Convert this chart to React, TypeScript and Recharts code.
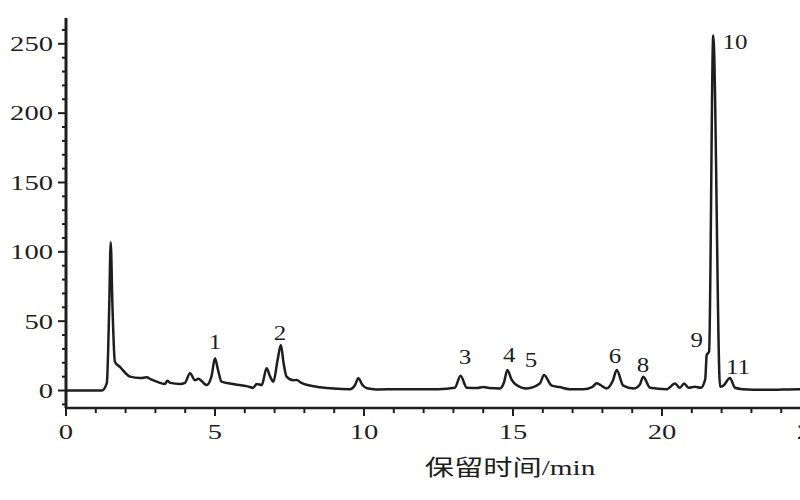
import { ComposedChart, Line, Scatter, XAxis, YAxis } from "recharts";

// retention time (min) and detector signal
const times = [
  0, 1.2, 1.37, 1.45, 1.5, 1.56, 1.64, 1.81, 2.15, 2.48,
  2.71, 2.85, 3.04, 3.32, 3.4, 3.5, 3.83, 3.99, 4.16, 4.33,
  4.44, 4.72, 4.88, 5.0, 5.1, 5.22, 5.6, 6.1, 6.28, 6.4,
  6.57, 6.73, 6.85, 6.96, 7.1, 7.21, 7.3, 7.4, 7.63, 7.74,
  7.9, 8.41, 8.96, 9.53, 9.7, 9.81, 9.95, 10.1, 10.4, 11.2,
  12.5, 13.05, 13.24, 13.45, 13.8, 14.0, 14.2, 14.56, 14.7, 14.81,
  14.95, 15.07, 15.46, 15.9, 16.04, 16.3, 16.56, 16.9, 17.36, 17.65,
  17.81, 18.0, 18.14, 18.35, 18.48, 18.7, 19.04, 19.25, 19.37, 19.6,
  20.16, 20.44, 20.6, 20.74, 20.9, 21.1, 21.3, 21.45, 21.5, 21.58,
  21.72, 21.95, 22.06, 22.28, 22.45, 22.7, 23.5, 24.6, 25,
];
const signal = [
  0, 0, 5.4, 60, 107, 60, 20.8, 17, 10, 9,
  9.5, 8, 6.4, 4.7, 7, 5.5, 4.7, 5.5, 12.4, 7.4,
  8.5, 4, 10, 23.2, 15, 6.4, 4.7, 3, 2, 4.7,
  4, 16, 10, 6.4, 22, 32.8, 20, 10, 7.4, 7.6,
  5.5, 2.7, 1.5, 1, 4, 8.8, 4, 1.6, 0.8, 1,
  1, 2, 10.7, 2, 1.8, 2.5, 1.8, 1.5, 6, 14.8,
  8, 4.7, 1.5, 5, 11.2, 3.5, 2.5, 1, 1, 2.5,
  5.2, 3, 1.5, 7, 14.8, 3.5, 1.5, 4, 10, 2,
  1, 5, 2, 5, 2, 2.7, 2, 8, 25.6, 28,
  256, 2.7, 3.5, 9, 2, 1, 0.5, 1, 1,
];

// peak numbers and where their labels sit
const peakNames = ["1", "2", "3", "4", "5", "6", "8", "9", "10", "11"];
const peakTimes = [5.0, 7.18, 13.39, 14.87, 15.6, 18.42, 19.36, 21.17, 22.45, 22.55];
const peakLabelLevels = [35, 41.5, 24.1, 25.6, 22, 24.9, 18.4, 36.4, 251, 17];

const xTicks = Array.from({ length: 26 }, (_, i) => i);
const yTicks = Array.from({ length: 28 }, (_, i) => i * 10 - 10);

const trace = times.map((t, i) => ({ t, v: signal[i] }));
const peaks = peakNames.map((name, i) => ({ t: peakTimes[i], v: peakLabelLevels[i], name }));

const ink = "#1e1e1e";
const serif = "'Liberation Serif', 'Times New Roman', 'Noto Sans CJK SC', serif";

function XTick(props: any) {
  const { x, y, payload } = props;
  const major = payload.value % 5 === 0;
  return (
    <g>
      <line x1={x} x2={x} y1={y} y2={y + (major ? 8 : 5)} stroke={ink} strokeWidth={2} />
      {major && (
        <g transform={`translate(${x},${y + 24}) scale(1.3,1)`}>
          <text textAnchor="middle" dominantBaseline="central" fontSize={22} fontFamily={serif} fill={ink}>
            {payload.value}
          </text>
        </g>
      )}
    </g>
  );
}

function YTick(props: any) {
  const { x, y, payload } = props;
  const major = payload.value % 50 === 0;
  return (
    <g>
      <line x1={x} x2={x - (major ? 8 : 4)} y1={y} y2={y} stroke={ink} strokeWidth={2} />
      {major && (
        <g transform={`translate(${x - 13},${y}) scale(1.3,1)`}>
          <text textAnchor="end" dominantBaseline="central" fontSize={22} fontFamily={serif} fill={ink}>
            {payload.value}
          </text>
        </g>
      )}
    </g>
  );
}

function PeakLabel(props: any) {
  const { cx, cy, payload } = props;
  return (
    <g transform={`translate(${cx},${cy}) scale(1.25,1)`}>
      <text textAnchor="middle" dominantBaseline="central" fontSize={20} fontFamily={serif} fill={ink}>
        {payload.name}
      </text>
    </g>
  );
}

function AxisTitle() {
  return (
    <g transform="translate(510,468) scale(1.33,1)">
      <text textAnchor="middle" dominantBaseline="central" fontSize={22} fontFamily={serif} fill={ink}>
        保留时间/min
      </text>
    </g>
  );
}

export default function App() {
  return (
    <div style={{ position: "absolute", left: 0, top: 0, width: 800, height: 500, overflow: "hidden", background: "#fff" }}>
      <ComposedChart width={830} height={500} margin={{ top: 18, right: 19, bottom: 32, left: 0 }}>
        <XAxis
          type="number"
          dataKey="t"
          domain={[0, 25]}
          ticks={xTicks}
          interval={0}
          allowDataOverflow
          height={60}
          tickSize={0}
          tickMargin={0}
          tickLine={false}
          axisLine={{ stroke: ink, strokeWidth: 2.5 }}
          tick={<XTick />}
          label={{ content: () => <AxisTitle /> }}
        />
        <YAxis
          type="number"
          domain={[-12.6, 268.6]}
          ticks={yTicks}
          interval={0}
          allowDataOverflow
          width={66}
          tickSize={0}
          tickMargin={0}
          tickLine={false}
          axisLine={{ stroke: ink, strokeWidth: 3 }}
          tick={<YTick />}
        />
        <Line
          data={trace}
          dataKey="v"
          type="monotone"
          stroke={ink}
          strokeWidth={2.5}
          dot={false}
          activeDot={false}
          isAnimationActive={false}
        />
        <Scatter data={peaks} dataKey="v" shape={<PeakLabel />} isAnimationActive={false} />
      </ComposedChart>
    </div>
  );
}
